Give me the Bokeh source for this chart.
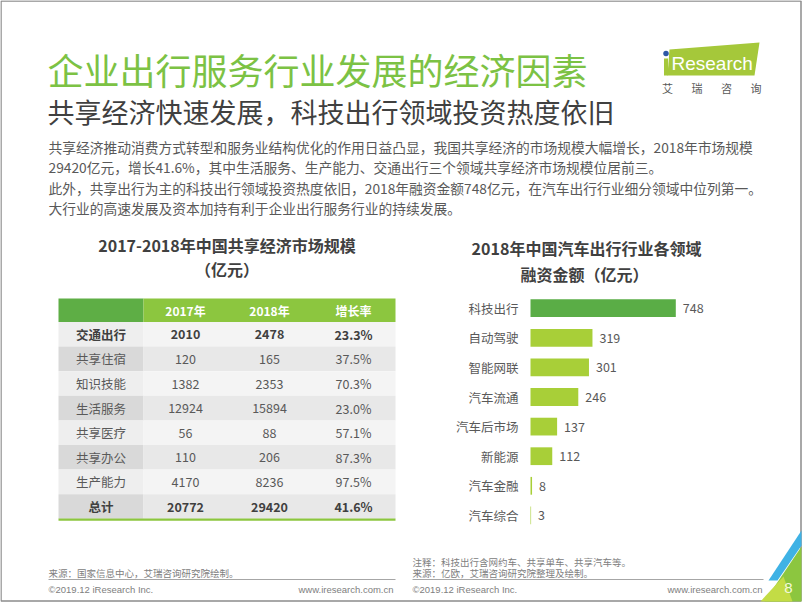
from bokeh.plotting import figure
from bokeh.models import Range1d, ColumnDataSource
from bokeh.core.properties import value
from bokeh.embed import file_html
from bokeh.resources import INLINE

# ---------------- data ----------------
title = "企业出行服务行业发展的经济因素"
subtitle = "共享经济快速发展，科技出行领域投资热度依旧"
paragraph = [
    "共享经济推动消费方式转型和服务业结构优化的作用日益凸显，我国共享经济的市场规模大幅增长，2018年市场规模",
    "29420亿元，增长41.6%，其中生活服务、生产能力、交通出行三个领域共享经济市场规模位居前三。",
    "此外，共享出行为主的科技出行领域投资热度依旧，2018年融资金额748亿元，在汽车出行行业细分领域中位列第一。",
    "大行业的高速发展及资本加持有利于企业出行服务行业的持续发展。",
]

table_title = ["2017-2018年中国共享经济市场规模", "（亿元）"]
table_headers = ["2017年", "2018年", "增长率"]
table_rows = ["交通出行", "共享住宿", "知识技能", "生活服务", "共享医疗", "共享办公", "生产能力", "总计"]
size_2017 = [2010, 120, 1382, 12924, 56, 110, 4170, 20772]
size_2018 = [2478, 165, 2353, 15894, 88, 206, 8236, 29420]
growth = ["23.3%", "37.5%", "70.3%", "23.0%", "57.1%", "87.3%", "97.5%", "41.6%"]
bold_rows = ["交通出行", "总计"]

bar_title = ["2018年中国汽车出行行业各领域", "融资金额（亿元）"]
bar_categories = ["科技出行", "自动驾驶", "智能网联", "汽车流通", "汽车后市场", "新能源", "汽车金融", "汽车综合"]
bar_values = [748, 319, 301, 246, 137, 112, 8, 3]

note_left = "来源：国家信息中心，艾瑞咨询研究院绘制。"
note_right = ["注释：科技出行含网约车、共享单车、共享汽车等。", "来源：亿欧，艾瑞咨询研究院整理及绘制。"]
copyright_text = "©2019.12 iResearch Inc."
site_text = "www.iresearch.com.cn"
page_number = "8"
logo_cn = ["艾", "瑞", "咨", "询"]

# ---------------- style ----------------
CJK = value("Noto Sans CJK SC")
LAT = value("Liberation Sans")
GREEN_T = "#7cc244"
DARK = "#404040"
GRAY = "#595959"
LIGHT = "#808080"
W, H = 802, 602
OFF = 0

p = figure(width=W, height=H, output_backend="svg", toolbar_location=None,
           x_range=Range1d(OFF, OFF + W), y_range=Range1d(OFF + H, OFF),
           x_axis_location=None, y_axis_location=None, min_border=0)
p.grid.visible = False
p.outline_line_color = None
p.background_fill_color = "white"
p.border_fill_color = "white"


def txt(x, y, t, size, color, align="left", style="normal", font=CJK, **kw):
    p.text(x=[x], y=[y], text=[t], text_font=font, text_font_size=size,
           text_color=color, text_align=align, text_baseline="middle",
           text_font_style=style, **kw)


# page frame
p.quad(left=[0.5], right=[W - 1.5], top=[0.5], bottom=[H - 1.5], fill_color=None,
       line_color="#8c8c8c", line_width=1.5)

# ---------------- header ----------------
txt(47, 68, title, "36px", GREEN_T)
txt(47, 111, subtitle, "27px", DARK)
para_y = [146, 166, 187, 207]
for yy, line in zip(para_y, paragraph):
    txt(48, yy, line, "13.75px", GRAY)

# logo
p.patch(x=[669, 759, 754, 667], y=[49, 42, 75, 75], color="#a5c83a", line_color=None)
p.quad(left=[663.5], right=[667.5], top=[58], bottom=[75], color="#a5c83a", line_color=None)
p.scatter(x=[665.5], y=[53], size=5.5, color="#2d58a6", line_color=None)
txt(671, 63, "Research", "19px", "white", font=LAT)
for i, ch in enumerate(logo_cn):
    txt(667 + i * 29.5, 87, ch, "11px", GRAY, align="center")

# ---------------- table ----------------
col_edges = [58, 143, 227, 311, 395]
head_top, head_h, row_h = 298, 23.5, 24.6
body_top = head_top + head_h
tcx = (col_edges[0] + col_edges[-1]) / 2
txt(tcx, 244, table_title[0], "16px", DARK, align="center", style="bold")
txt(tcx, 268, table_title[1], "16px", DARK, align="center", style="bold")

# header cells
p.quad(left=[col_edges[0]], right=[col_edges[1]], top=[head_top], bottom=[body_top],
       color="#5eae45", line_color=None)
p.quad(left=[col_edges[1]], right=[col_edges[-1]], top=[head_top], bottom=[body_top],
       color="#8cc63f", line_color=None)
for j, h in enumerate(table_headers):
    txt((col_edges[j + 1] + col_edges[j + 2]) / 2, head_top + head_h / 2 + 0.5, h,
        "12px", "white", align="center", style="bold")

lab_l, lab_r, lab_t, lab_b, lab_c = [], [], [], [], []
dat_l, dat_r, dat_t, dat_b, dat_c = [], [], [], [], []
for i in range(len(table_rows)):
    t = body_top + i * row_h
    even = i % 2 == 0
    lab_l.append(col_edges[0]); lab_r.append(col_edges[1]); lab_t.append(t); lab_b.append(t + row_h)
    lab_c.append("#eeeeee" if even else "#d9d9d9")
    dat_l.append(col_edges[1]); dat_r.append(col_edges[-1]); dat_t.append(t); dat_b.append(t + row_h)
    dat_c.append("#f4f4f4" if even else "#e8e8e8")
p.quad(left=lab_l, right=lab_r, top=lab_t, bottom=lab_b, color=lab_c, line_color=None)
p.quad(left=dat_l, right=dat_r, top=dat_t, bottom=dat_b, color=dat_c, line_color=None)
p.line(x=[col_edges[0], col_edges[-1]], y=[body_top + len(table_rows) * row_h + 0.8] * 2,
       line_color="#8cc63f", line_width=2.2)

for i, name in enumerate(table_rows):
    yy = body_top + (i + 0.5) * row_h
    b = name in bold_rows
    st = "bold" if b else "normal"
    col = DARK if b else GRAY
    cells = [name, str(size_2017[i]), str(size_2018[i]), growth[i]]
    for j, c in enumerate(cells):
        txt((col_edges[j] + col_edges[j + 1]) / 2, yy, c, "12.5px", col, align="center", style=st)

# ---------------- bar chart ----------------
BAR_X0 = 530.0
BAR_PX = 145.3 / 748.0
BAR_Y0 = 307.7
BAR_STEP = 29.6
xs = -(BAR_X0 - OFF) / BAR_PX
p.extra_x_ranges = {"bar": Range1d(xs, xs + W / BAR_PX)}
p.extra_y_ranges = {"bar": Range1d((OFF + H - BAR_Y0) / BAR_STEP, (OFF - BAR_Y0) / BAR_STEP)}

txt(586, 247, bar_title[0], "16px", DARK, align="center", style="bold")
txt(584, 273, bar_title[1], "16px", DARK, align="center", style="bold")

idx = list(range(len(bar_categories)))
colors = ["#5aad46"] + ["#a8cf38"] * (len(bar_categories) - 1)
src = ColumnDataSource(dict(y=idx, v=bar_values, cat=bar_categories,
                            lab=[str(v) for v in bar_values], c=colors, zero=[0] * len(idx)))
p.hbar(y="y", left="zero", right="v", height=0.6, color="c", line_color=None, source=src,
       x_range_name="bar", y_range_name="bar")
p.text(x="v", y="y", text="lab", source=src, x_offset=7, text_font=CJK, text_font_size="12.5px",
       text_color=GRAY, text_align="left", text_baseline="middle",
       x_range_name="bar", y_range_name="bar")
p.text(x="zero", y="y", text="cat", source=src, x_offset=-12, text_font=CJK, text_font_size="12.5px",
       text_color=GRAY, text_align="right", text_baseline="middle",
       x_range_name="bar", y_range_name="bar")

# ---------------- footer ----------------
txt(48, 572, note_left, "9.5px", LIGHT)
txt(412, 561, note_right[0], "9.5px", LIGHT)
txt(412, 572, note_right[1], "9.5px", LIGHT)
p.line(x=[48, 395], y=[579, 579], line_color="#a6a6a6", line_width=1)
p.line(x=[412, 763], y=[579, 579], line_color="#a6a6a6", line_width=1)
txt(48, 589, copyright_text, "9.5px", LIGHT, font=LAT)
txt(393, 589, site_text, "9.5px", LIGHT, align="right", font=LAT)
txt(412, 589, copyright_text, "9.5px", LIGHT, font=LAT)
txt(762, 589, site_text, "9.5px", LIGHT, align="right", font=LAT)

# corner decoration
p.patch(x=[768, 801, 801, 777], y=[580, 530, 545, 580], color="#3fb2e5", line_color=None)
p.patch(x=[764, 801, 801], y=[601, 546, 601], color="#8cc63f", line_color=None)
p.patch(x=[760, 783, 792], y=[601, 576, 601], color="#c3dc45", line_color=None)
txt(788, 587, page_number, "15px", "#f4f9d8", align="center", font=LAT)

open("out.html", "w").write(file_html(p, INLINE))
